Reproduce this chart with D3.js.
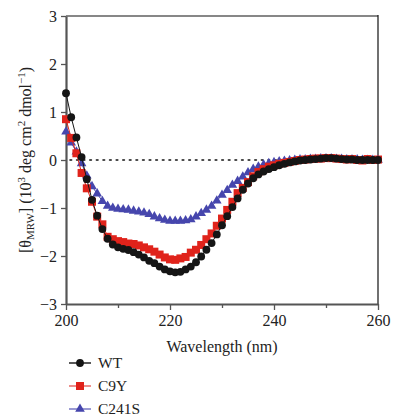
<!DOCTYPE html>
<html><head><meta charset="utf-8">
<script src="https://cdn.jsdelivr.net/npm/d3@7"></script>
<style>body{margin:0;background:#fff}svg{display:block}text{font-family:"Liberation Serif","DejaVu Serif",serif;fill:#222}</style>
</head><body><div id="c"></div>
<script>
const wavelengths = d3.range(200, 261);
const wt = [1.39,0.89,0.47,0.06,-0.40,-0.83,-1.16,-1.44,-1.64,-1.76,-1.82,-1.85,-1.875,-1.92,-1.97,-2.03,-2.10,-2.15,-2.22,-2.28,-2.32,-2.34,-2.33,-2.28,-2.22,-2.13,-2.01,-1.87,-1.73,-1.55,-1.36,-1.17,-0.98,-0.80,-0.62,-0.49,-0.38,-0.30,-0.24,-0.19,-0.15,-0.11,-0.08,-0.05,-0.03,-0.01,0.0,0.01,0.02,0.03,0.04,0.04,0.03,0.02,0.01,0.01,0.0,0.0,0.0,0.0,0.0];
const c9y = [0.85,0.46,0.14,-0.27,-0.59,-0.87,-1.18,-1.34,-1.60,-1.65,-1.69,-1.71,-1.74,-1.75,-1.78,-1.82,-1.86,-1.91,-1.97,-2.03,-2.07,-2.08,-2.05,-2.02,-1.93,-1.87,-1.77,-1.65,-1.53,-1.37,-1.22,-1.04,-0.87,-0.69,-0.58,-0.46,-0.34,-0.25,-0.19,-0.14,-0.11,-0.08,-0.06,-0.04,-0.02,0.0,0.01,0.02,0.03,0.03,0.04,0.04,0.03,0.02,0.01,0.02,0.0,-0.01,0.02,0.0,0.01];
const c241s = [0.59,0.36,0.17,-0.07,-0.33,-0.55,-0.70,-0.86,-0.96,-1.00,-1.02,-1.03,-1.04,-1.06,-1.08,-1.10,-1.13,-1.18,-1.22,-1.25,-1.27,-1.27,-1.27,-1.26,-1.24,-1.18,-1.11,-1.04,-0.96,-0.85,-0.73,-0.63,-0.52,-0.44,-0.35,-0.26,-0.19,-0.14,-0.10,-0.07,-0.05,-0.03,-0.02,-0.01,0.0,0.01,0.01,0.02,0.02,0.03,0.03,0.03,0.02,0.02,0.01,0.01,0.01,0.0,0.0,0.0,0.0];
const seriesNames = ["WT","C9Y","C241S"];
const xTicks = [200,220,240,260];
const xMinor = [210,230,250];
const yTicks = [-3,-2,-1,0,1,2,3];

const W=393,H=417;
const m={l:66,r:15,t:16,b:113};
const svg=d3.select("#c").append("svg").attr("width",W).attr("height",H);
const x=d3.scaleLinear().domain([200,260]).range([m.l,W-m.r]);
const y=d3.scaleLinear().domain([-3,3]).range([H-m.b,m.t]);

// frame top/right
svg.append("line").attr("x1",x(200)).attr("x2",x(260)).attr("y1",y(3)).attr("y2",y(3)).attr("stroke","#111").attr("stroke-width",1.2);
svg.append("line").attr("x1",x(260)).attr("x2",x(260)).attr("y1",y(3)-1).attr("y2",y(-3)).attr("stroke","#111").attr("stroke-width",1.2);

// zero dotted line
svg.append("line").attr("x1",x(200)+4).attr("x2",x(260)).attr("y1",y(0)).attr("y2",y(0)).attr("stroke","#111").attr("stroke-width",1.6).attr("stroke-dasharray","1.6,5").attr("stroke-linecap","round");

// axes
const ya=svg.append("g").attr("transform",`translate(${x(200)},0)`).call(d3.axisLeft(y).tickValues(yTicks).tickSize(5).tickSizeOuter(0).tickFormat(d3.format("d")));
const xa=svg.append("g").attr("transform",`translate(0,${y(-3)})`).call(d3.axisBottom(x).tickValues(xTicks).tickSize(6).tickSizeOuter(0).tickFormat(d3.format("d")));
const xm=svg.append("g").attr("transform",`translate(0,${y(-3)})`).call(d3.axisBottom(x).tickValues(xMinor).tickSize(4).tickFormat(""));
xm.select(".domain").remove();
[ya,xa,xm].forEach(g=>{g.selectAll("path,line").attr("stroke","#555").attr("stroke-width",1.3);g.selectAll("text").attr("font-size",16).attr("fill","#222").style("font-family","'Liberation Serif',serif");});
ya.select(".domain").attr("stroke-width",2.2);
xa.select(".domain").attr("stroke-width",1.8);
ya.selectAll("text").attr("x",-9);
xa.selectAll("text").attr("y",11);

// axis titles
svg.append("text").attr("x",(x(200)+x(260))/2).attr("y",352).attr("text-anchor","middle").attr("font-size",16).text("Wavelength (nm)");
const yt=svg.append("text").attr("transform",`translate(31,${(y(3)+y(-3))/2}) rotate(-90)`).attr("text-anchor","middle").attr("font-size",16);
yt.append("tspan").text("[θ");
yt.append("tspan").attr("font-size",11).attr("dy",3).text("MRW");
yt.append("tspan").attr("dy",-3).text("] (10");
yt.append("tspan").attr("font-size",11).attr("dy",-6).text("3");
yt.append("tspan").attr("dy",6).text(" deg cm");
yt.append("tspan").attr("font-size",11).attr("dy",-6).text("2");
yt.append("tspan").attr("dy",6).text(" dmol");
yt.append("tspan").attr("font-size",11).attr("dy",-6).text("−1");
yt.append("tspan").attr("dy",6).text(")");

const data={WT:wt,C9Y:c9y,C241S:c241s};
const colors={WT:"#151515",C9Y:"#e0231b",C241S:"#4646ad"};
const lineColors={WT:"#151515",C9Y:"#e0231b",C241S:"#4646ad"};
const legLine={WT:"#222",C9Y:"#e86a66",C241S:"#7878c4"};
const sym={WT:d3.symbolCircle,C9Y:d3.symbolSquare,C241S:d3.symbolTriangle};
const size={WT:48,C9Y:64,C241S:40};

const line=d3.line().x((d,i)=>x(wavelengths[i])).y(d=>y(d));
["C241S","C9Y","WT"].forEach(k=>{
  const g=svg.append("g");
  g.append("path").datum(data[k]).attr("d",line).attr("fill","none").attr("stroke",lineColors[k]).attr("stroke-width",1);
  g.selectAll("path.pt").data(data[k]).join("path").attr("class","pt")
    .attr("transform",(d,i)=>`translate(${x(wavelengths[i])},${y(d)})`)
    .attr("d",d3.symbol().type(sym[k]).size(size[k])).attr("fill",colors[k]);
});

// legend
const legY=[363,386,409];
seriesNames.forEach((k,i)=>{
  const g=svg.append("g").attr("transform",`translate(69,${legY[i]})`);
  g.append("line").attr("x1",0).attr("x2",22).attr("stroke",legLine[k]).attr("stroke-width",1.5);
  g.append("path").attr("transform","translate(11,0)").attr("d",d3.symbol().type(sym[k]).size(size[k])).attr("fill",colors[k]);
  g.append("text").attr("x",29).attr("y",5).attr("font-size",15.5).text(k);
});
</script></body></html>
